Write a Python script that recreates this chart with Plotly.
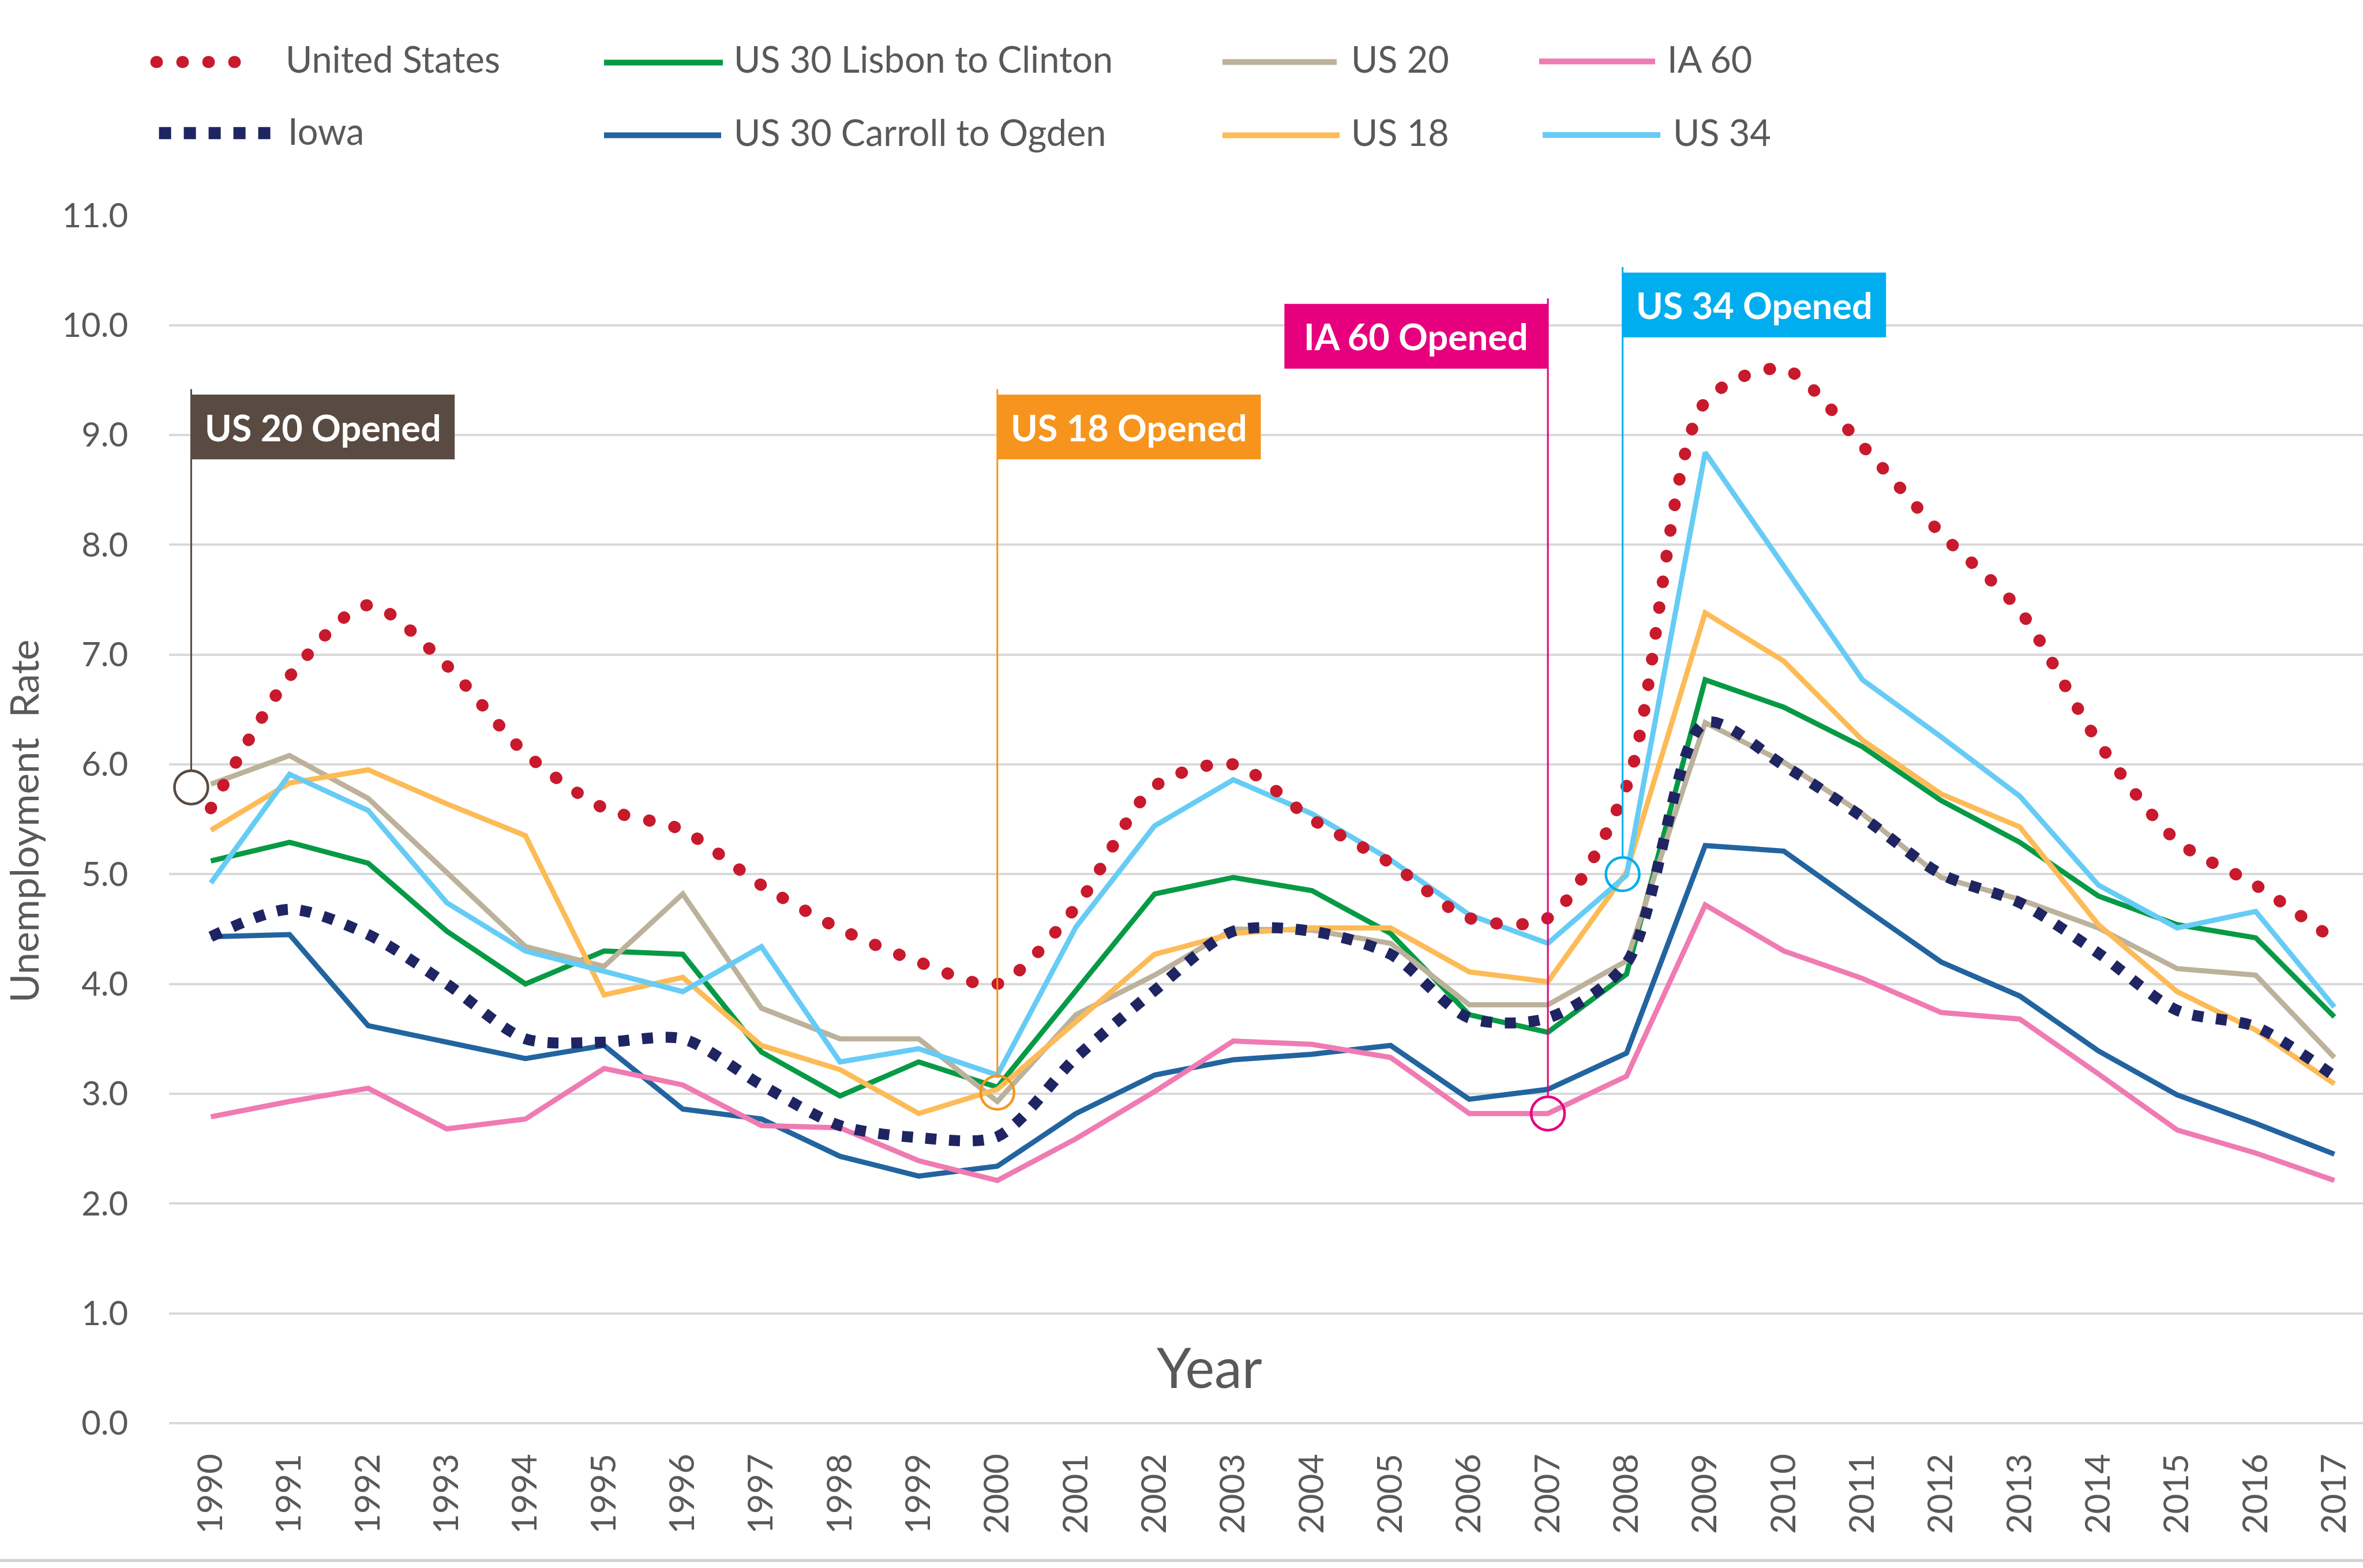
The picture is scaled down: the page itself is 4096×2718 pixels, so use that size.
import plotly.graph_objects as go

# ---------------------------------------------------------------- data
years = list(range(1990, 2018))
year_labels = [str(y) for y in years]

united_states = [5.6, 6.8, 7.45, 6.9, 6.1, 5.6, 5.4, 4.9, 4.5, 4.2,
                 4.0, 4.7, 5.8, 6.0, 5.5, 5.1, 4.6, 4.6, 5.8, 9.3,
                 9.6, 8.9, 8.1, 7.4, 6.2, 5.3, 4.9, 4.4]
iowa = [4.43, 4.68, 4.45, 4.00, 3.50, 3.47, 3.50, 3.08, 2.71, 2.60,
        2.61, 3.33, 3.94, 4.48, 4.48, 4.27, 3.69, 3.69, 4.19, 6.38,
        5.99, 5.52, 5.00, 4.74, 4.28, 3.76, 3.61, 3.16]
us30_lisbon_clinton = [5.12, 5.29, 5.10, 4.48, 4.00, 4.30, 4.27, 3.38, 2.98, 3.29,
                       3.06, 3.94, 4.82, 4.97, 4.85, 4.46, 3.72, 3.56, 4.09, 6.77,
                       6.52, 6.16, 5.67, 5.29, 4.80, 4.54, 4.42, 3.70]
us30_carroll_ogden = [4.43, 4.45, 3.62, 3.47, 3.32, 3.44, 2.86, 2.77, 2.43, 2.25,
                      2.34, 2.82, 3.17, 3.31, 3.36, 3.44, 2.95, 3.04, 3.37, 5.26,
                      5.21, 4.70, 4.20, 3.89, 3.39, 2.99, 2.73, 2.45]
us20 = [5.82, 6.08, 5.69, 5.02, 4.34, 4.16, 4.82, 3.78, 3.50, 3.50,
        2.93, 3.72, 4.08, 4.50, 4.49, 4.37, 3.81, 3.81, 4.21, 6.38,
        6.02, 5.55, 4.97, 4.77, 4.51, 4.14, 4.08, 3.33]
us18 = [5.40, 5.83, 5.95, 5.64, 5.35, 3.90, 4.06, 3.44, 3.22, 2.82,
        3.04, 3.65, 4.27, 4.46, 4.51, 4.51, 4.11, 4.02, 5.02, 7.38,
        6.94, 6.22, 5.73, 5.43, 4.54, 3.93, 3.58, 3.09]
ia60 = [2.79, 2.93, 3.05, 2.68, 2.77, 3.23, 3.08, 2.71, 2.69, 2.39,
        2.21, 2.59, 3.02, 3.48, 3.45, 3.33, 2.82, 2.82, 3.16, 4.72,
        4.30, 4.05, 3.74, 3.68, 3.18, 2.67, 2.46, 2.21]
us34 = [4.92, 5.91, 5.58, 4.74, 4.30, 4.12, 3.93, 4.34, 3.29, 3.41,
        3.17, 4.52, 5.44, 5.86, 5.55, 5.13, 4.63, 4.37, 4.99, 8.84,
        7.81, 6.77, 6.25, 5.71, 4.90, 4.51, 4.66, 3.79]

# corridor openings: label, year opened, rate marked on the chart
event_labels = ["US 20 Opened", "US 18 Opened", "IA 60 Opened", "US 34 Opened"]
event_years = [1990, 2000, 2007, 2008]
event_rates = [5.79, 3.01, 2.82, 5.00]

y_ticks = [float(v) for v in range(0, 12)]

# ---------------------------------------------------------------- styling
W, H = 4096, 2718
FONT = "Lato, 'Open Sans', sans-serif"
GREY_TEXT = "#595959"
GRID = "#D9D9D9"

C_US = "#C8192D"
C_IOWA = "#1F2462"
C_LISBON = "#079A45"
C_CARROLL = "#22649F"
C_US20 = "#BCB29B"
C_US18 = "#FDBB57"
C_IA60 = "#EF7BB2"
C_US34 = "#66CCF5"

SOLID_W = 9
DOT_DASH = "1px,44px"      # rounded caps turn these into dots
SQUARE_DASH = "19px,22px"

event_colors = ["#594A42", "#F7941D", "#E6007E", "#00AEEF"]
event_x_shift = [-0.25, 0.0, 0.0, -0.05]
event_box_side = ["right", "right", "left", "right"]
event_box_top = [9.368, 9.368, 10.194, 10.479]
BOX_W = 3.35
BOX_H = 0.59
CIRCLE_SIZE = 58

# plot area (pixels in the output figure)
PLOT_LEFT = 292.7
PLOT_TOP = 373.3
PLOT_BOTTOM = 2466.9
X_RANGE = [1989.466, 2017.364]

fig = go.Figure()

line_series = [
    ("US 30 Lisbon to Clinton", us30_lisbon_clinton, C_LISBON),
    ("US 30 Carroll to Ogden", us30_carroll_ogden, C_CARROLL),
    ("US 20", us20, C_US20),
    ("US 18", us18, C_US18),
    ("IA 60", ia60, C_IA60),
    ("US 34", us34, C_US34),
]
for name, vals, col in line_series:
    fig.add_trace(go.Scatter(
        x=years, y=vals, name=name, mode="lines",
        line=dict(color=col, width=SOLID_W),
        xaxis="x", yaxis="y", showlegend=False, hoverinfo="skip"))

fig.add_trace(go.Scatter(
    x=years, y=iowa, name="Iowa", mode="lines",
    line=dict(color=C_IOWA, width=19, dash=SQUARE_DASH, shape="spline", smoothing=0.8),
    xaxis="x", yaxis="y", showlegend=False, hoverinfo="skip"))

fig.add_trace(go.Scatter(
    x=years, y=united_states, name="United States", mode="lines", uid="usdots",
    line=dict(color=C_US, width=21, dash=DOT_DASH, shape="spline", smoothing=0.8),
    xaxis="x", yaxis="y", showlegend=False, hoverinfo="skip"))

# opening markers
fig.add_trace(go.Scatter(
    x=[y + s for y, s in zip(event_years, event_x_shift)], y=event_rates,
    mode="markers", cliponaxis=False,
    marker=dict(symbol="circle-open", size=CIRCLE_SIZE, color=event_colors,
                line=dict(width=4.5)),
    xaxis="x", yaxis="y", showlegend=False, hoverinfo="skip"))

shapes = []
annotations = []
px_per_unit = (PLOT_BOTTOM - PLOT_TOP) / 11.0
r_units = (CIRCLE_SIZE / 2) / px_per_unit
for lab, yr, rate, col, sh, side, top in zip(event_labels, event_years, event_rates,
                                              event_colors, event_x_shift,
                                              event_box_side, event_box_top):
    xl = yr + sh
    shapes.append(dict(type="line", xref="x", yref="y", x0=xl, x1=xl,
                       y0=rate + r_units, y1=top + 0.05,
                       line=dict(color=col, width=3), layer="above"))
    x0, x1 = (xl, xl + BOX_W) if side == "right" else (xl - BOX_W, xl)
    shapes.append(dict(type="rect", xref="x", yref="y", x0=x0, x1=x1,
                       y0=top - BOX_H, y1=top, fillcolor=col,
                       line=dict(width=0), layer="above"))
    annotations.append(dict(xref="x", yref="y", x=(x0 + x1) / 2, y=top - BOX_H / 2,
                            text=f"<b>{lab}</b>", showarrow=False,
                            xanchor="center", yanchor="middle",
                            font=dict(family=FONT, size=63, color="white")))

# ---------------------------------------------------------------- key
key_items = [
    ("United States", C_US, "dots", 271, 447, 107.5, 493, 101),
    ("Iowa", C_IOWA, "squares", 275.6, 471, 230.7, 497, 226),
    ("US 30 Lisbon to Clinton", C_LISBON, "solid", 1047, 1253, 108.5, 1270, 101),
    ("US 30 Carroll to Ogden", C_CARROLL, "solid", 1047, 1250, 234.6, 1270, 228),
    ("US 20", C_US20, "solid", 2119, 2317, 107.5, 2340, 101),
    ("US 18", C_US18, "solid", 2119, 2322, 234.4, 2340, 228),
    ("IA 60", C_IA60, "solid", 2668, 2869, 106.5, 2888, 101),
    ("US 34", C_US34, "solid", 2674, 2878, 234.0, 2898, 228),
]
for name, col, kind, kx0, kx1, ky, tx, ty in key_items:
    if kind == "dots":
        ln = dict(color=C_US, width=21, dash=DOT_DASH)
        uid = "usdotskey"
    elif kind == "squares":
        ln = dict(color=C_IOWA, width=21, dash="21px,22px")
        uid = None
    else:
        ln = dict(color=col, width=SOLID_W + 1)
        uid = None
    tr = dict(x=[kx0, kx1], y=[ky, ky], mode="lines", line=ln,
              xaxis="x2", yaxis="y2", showlegend=False, hoverinfo="skip")
    if uid:
        tr["uid"] = uid
    fig.add_trace(go.Scatter(**tr))
    annotations.append(dict(xref="x2", yref="y2", x=tx, y=ty, text=name,
                            showarrow=False, xanchor="left", yanchor="middle",
                            font=dict(family=FONT, size=63, color=GREY_TEXT)))

# axis titles
annotations.append(dict(xref="x2", yref="y2", x=2096, y=2368, text="Year",
                        showarrow=False, xanchor="center", yanchor="middle",
                        font=dict(family=FONT, size=96, color=GREY_TEXT)))
annotations.append(dict(xref="x2", yref="y2", x=40, y=1423,
                        text="Unemployment\u00a0 Rate", textangle=-90,
                        showarrow=False, xanchor="center", yanchor="middle",
                        font=dict(family=FONT, size=68, color=GREY_TEXT)))

# bottom rule of the chart frame
shapes.append(dict(type="line", xref="paper", yref="paper", x0=0, x1=1,
                   y0=(H - 2705) / H, y1=(H - 2705) / H,
                   line=dict(color="#D0D0D0", width=5), layer="below"))

fig.update_layout(
    width=W, height=H,
    margin=dict(l=0, r=0, t=0, b=0, pad=0, autoexpand=False),
    paper_bgcolor="white", plot_bgcolor="rgba(0,0,0,0)",
    font=dict(family=FONT, color=GREY_TEXT),
    showlegend=False,
    xaxis=dict(domain=[PLOT_LEFT / W, 1], range=X_RANGE,
               tickmode="array", tickvals=years, ticktext=year_labels,
               tickangle=-90, tickfont=dict(family=FONT, size=60, color=GREY_TEXT),
               ticks="outside", ticklen=28, tickcolor="rgba(0,0,0,0)",
               showgrid=False, zeroline=False, showline=False, anchor="y",
               automargin=False),
    yaxis=dict(domain=[(H - PLOT_BOTTOM) / H, (H - PLOT_TOP) / H],
               range=[0, 11], tickmode="array", tickvals=y_ticks,
               tickformat=".1f", tickfont=dict(family=FONT, size=58, color=GREY_TEXT),
               ticks="outside", ticklen=58, tickcolor="rgba(0,0,0,0)",
               showgrid=True, gridcolor=GRID, gridwidth=3.5,
               zeroline=True, zerolinecolor=GRID, zerolinewidth=3.5,
               showline=False, anchor="x", automargin=False),
    xaxis2=dict(domain=[0, 1], range=[0, W], visible=False, anchor="y2",
                fixedrange=True, automargin=False),
    yaxis2=dict(domain=[0, 1], range=[H, 0], visible=False, anchor="x2",
                fixedrange=True, automargin=False),
    shapes=shapes,
    annotations=annotations,
)

round_caps = """
var gd = document.getElementById('{plot_id}');
function roundDots() {
  gd.querySelectorAll('.traceusdots path.js-line, .traceusdotskey path.js-line')
    .forEach(function (p) { p.style.strokeLinecap = 'round'; });
}
roundDots();
gd.on('plotly_afterplot', roundDots);
"""

fig.write_html("out.html", config={"displayModeBar": False, "responsive": False},
               post_script=round_caps)
